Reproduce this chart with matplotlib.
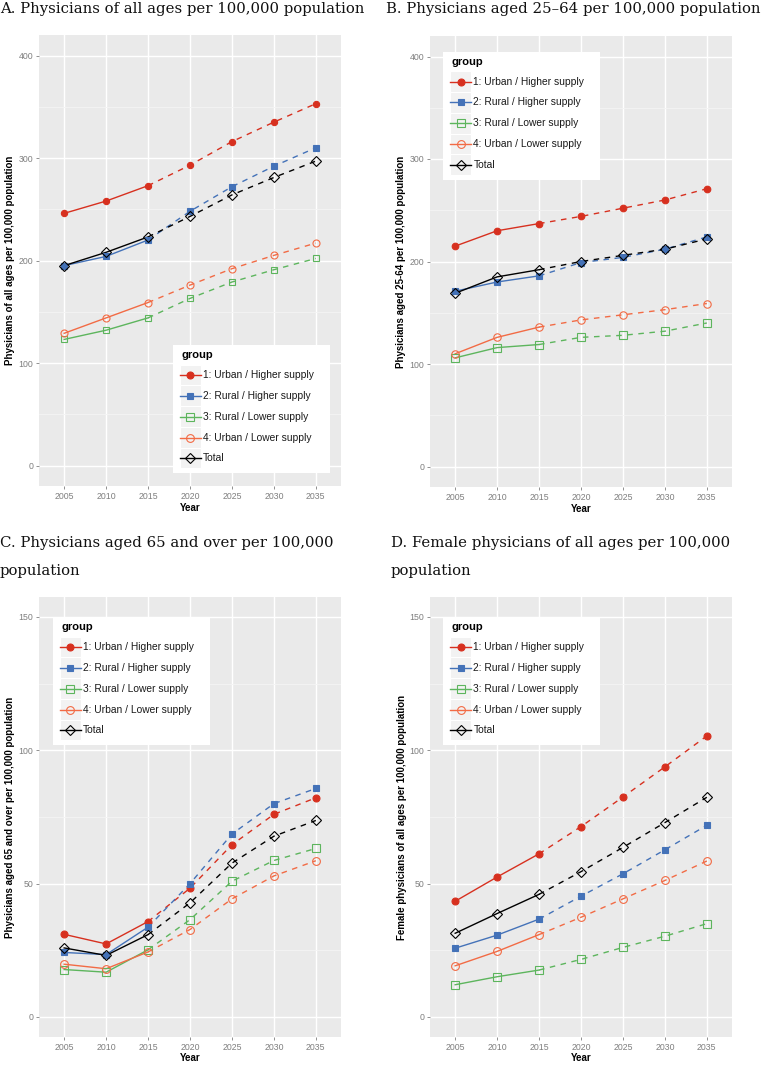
import matplotlib
matplotlib.use("Agg")
import matplotlib.pyplot as plt
from matplotlib.lines import Line2D
from matplotlib.patches import Rectangle

# ---------------- data ----------------
years = [2005, 2010, 2015, 2020, 2025, 2030, 2035]
group_labels = ["1: Urban / Higher supply", "2: Rural / Higher supply",
                "3: Rural / Lower supply", "4: Urban / Lower supply", "Total"]

a_urban_high = [246, 258, 273, 293, 316, 335, 353]
a_rural_high = [195, 204, 220, 248, 272, 292, 310]
a_rural_low = [123, 132, 144, 163, 179, 191, 202]
a_urban_low = [129, 144, 159, 176, 192, 205, 217]
a_total = [195, 208, 223, 243, 264, 281, 297]

b_urban_high = [215, 230, 237, 244, 252, 260, 271]
b_rural_high = [171, 180, 186, 199, 204, 212, 224]
b_rural_low = [106, 116, 119, 126, 128, 132, 140]
b_urban_low = [110, 126, 136, 143, 148, 153, 159]
b_total = [169, 185, 192, 200, 206, 212, 222]

c_urban_high = [31.0, 27.4, 35.8, 48.3, 64.6, 76.0, 82.2]
c_rural_high = [24.2, 23.4, 33.7, 50.0, 68.6, 80.0, 85.7]
c_rural_low = [17.8, 16.8, 25.2, 36.5, 50.9, 58.7, 63.2]
c_urban_low = [19.8, 18.1, 24.4, 32.8, 44.3, 52.9, 58.6]
c_total = [25.9, 23.1, 30.9, 42.8, 57.7, 67.8, 73.7]

d_urban_high = [43.4, 52.5, 61.2, 71.4, 82.5, 93.8, 105.4]
d_rural_high = [25.8, 30.7, 36.7, 45.3, 53.7, 62.7, 71.9]
d_rural_low = [12.1, 15.1, 17.6, 21.6, 26.1, 30.3, 35.0]
d_urban_low = [19.2, 24.6, 30.9, 37.4, 44.3, 51.2, 58.5]
d_total = [31.4, 38.8, 46.0, 54.5, 63.6, 72.9, 82.4]

titles = [["A. Physicians of all ages per 100,000 population"],
          ["B. Physicians aged 25\u201364 per 100,000 population"],
          ["C. Physicians aged 65 and over per 100,000", "population"],
          ["D. Female physicians of all ages per 100,000", "population"]]
ylabels = ["Physicians of all ages per 100,000 population",
           "Physicians aged 25-64 per 100,000 population",
           "Physicians aged 65 and over per 100,000 population",
           "Female physicians of all ages per 100,000 population"]

# ---------------- style ----------------
colors = ["#D7301F", "#4472B8", "#5DB55D", "#F26B45", "#000000"]
markers = ["o", "s", "s", "o", "D"]
filled = [True, True, False, False, False]
msizes = [5.0, 4.9, 5.4, 5.6, 5.4]

W, H = 767, 1075
fig = plt.figure(figsize=(W / 100, H / 100), dpi=100)
SANS = "Liberation Sans"
SERIF = "DejaVu Serif"

def fx(x):
    return x / W

def fy(y):
    return 1 - y / H

def px_axes(l, t, r, b):
    return [l / W, 1 - b / H, (r - l) / W, (b - t) / H]

panels = [
    dict(data=[a_urban_high, a_rural_high, a_rural_low, a_urban_low, a_total],
         box=(39, 35, 341, 486), ymax=400, yticks=[0, 100, 200, 300, 400],
         minor=[50, 150, 250, 350], leg=(173, 345), tx=0, ty=[13],
         ylx=10, yearlab=(190, 508), mscale=0.9),
    dict(data=[b_urban_high, b_rural_high, b_rural_low, b_urban_low, b_total],
         box=(430, 36, 732, 487), ymax=400, yticks=[0, 100, 200, 300, 400],
         minor=[50, 150, 250, 350], leg=(443.3, 51.7), tx=386, ty=[13],
         ylx=401, yearlab=(581, 509), mscale=0.95),
    dict(data=[c_urban_high, c_rural_high, c_rural_low, c_urban_low, c_total],
         box=(39, 597, 341, 1037), ymax=150, yticks=[0, 50, 100, 150],
         minor=[25, 75, 125], leg=(53, 617), tx=0, ty=[547, 575],
         ylx=10, yearlab=(190, 1058), mscale=1.0),
    dict(data=[d_urban_high, d_rural_high, d_rural_low, d_urban_low, d_total],
         box=(430, 597, 732, 1037), ymax=150, yticks=[0, 50, 100, 150],
         minor=[25, 75, 125], leg=(443.3, 617), tx=391, ty=[547, 575],
         ylx=402, yearlab=(581, 1058), mscale=1.0),
]

LEG_W, LEG_H = 157, 128
ROWS = [30, 50.7, 71.6, 92.6, 113]

for i, p in enumerate(panels):
    l, t, r, b = p["box"]
    ax = fig.add_axes(px_axes(l, t, r, b))
    ax.set_facecolor("#EAEAEA")
    for s in ax.spines.values():
        s.set_visible(False)
    ymax = p["ymax"]
    ax.set_ylim(-0.05 * ymax, 1.05 * ymax)
    ax.set_xlim(2002, 2038)
    ax.set_xticks(years)
    ax.set_yticks(p["yticks"])
    ax.set_yticks(p["minor"], minor=True)
    ax.grid(which="major", color="white", lw=1.0)
    ax.grid(which="minor", axis="y", color="#F4F4F4", lw=0.6)
    ax.set_axisbelow(True)
    ax.tick_params(which="major", length=2.5, width=0.6, color="#7F7F7F",
                   labelsize=6.3, labelcolor="#7F7F7F", pad=1.5)
    ax.tick_params(which="minor", length=0)
    for lab in ax.get_xticklabels() + ax.get_yticklabels():
        lab.set_fontfamily(SANS)

    ms = [m * p["mscale"] for m in msizes]
    for k, series in enumerate(p["data"]):
        c = colors[k]
        ax.plot(years[:3], series[:3], color=c, lw=1.0, ls="-", zorder=3)
        ax.plot(years[2:], series[2:], color=c, lw=1.0, ls=(0, (4, 4)), zorder=3)
        ax.plot(years, series, ls="none", marker=markers[k], ms=ms[k],
                mfc=c if filled[k] else "none", mec=c, mew=0.8, zorder=4)

    # legend (drawn as a ggplot-style key box)
    lx, ly = p["leg"]
    ax.add_artist(Rectangle((fx(lx), fy(ly + LEG_H)), LEG_W / W, LEG_H / H,
                            transform=fig.transFigure, facecolor="white",
                            edgecolor="none", zorder=10, clip_on=False))
    fig.text(fx(lx + 8), fy(ly + 10), "group", family=SANS, fontsize=8,
             fontweight="bold", ha="left", va="center", zorder=11)
    for k in range(5):
        c = colors[k]
        cy = ly + ROWS[k]
        ax.add_artist(Rectangle((fx(lx + 6.5), fy(cy + 10.3)), 21.5 / W, 20.6 / H,
                                transform=fig.transFigure, facecolor="#F2F2F2",
                                edgecolor="white", lw=0.8, zorder=11, clip_on=False))
        ax.add_artist(Line2D([fx(lx + 6.5), fx(lx + 28)], [fy(cy), fy(cy)],
                             transform=fig.transFigure, color=c, lw=1.0,
                             zorder=12, clip_on=False))
        ax.add_artist(Line2D([fx(lx + 17.25)], [fy(cy)], transform=fig.transFigure,
                             ls="none", marker=markers[k], ms=msizes[k],
                             mfc=c if filled[k] else "none", mec=c, mew=0.8,
                             zorder=13, clip_on=False))
        fig.text(fx(lx + 30), fy(cy), group_labels[k], family=SANS, fontsize=7.4,
                 color="#1A1A1A", ha="left", va="center", zorder=13)

    # titles and axis labels
    for line, yb in zip(titles[i], p["ty"]):
        fig.text(fx(p["tx"]), fy(yb), line, family=SERIF, fontsize=10.7,
                 ha="left", va="baseline", color="#111111")
    fig.text(fx(p["ylx"]), fy((t + b) / 2), ylabels[i], rotation=90,
             family=SANS, fontsize=7, fontweight="bold", ha="center", va="center")
    yx, yy = p["yearlab"]
    fig.text(fx(yx), fy(yy), "Year", family=SANS, fontsize=7,
             fontweight="bold", ha="center", va="center")

fig.savefig("out.png", dpi=100, facecolor="white")
